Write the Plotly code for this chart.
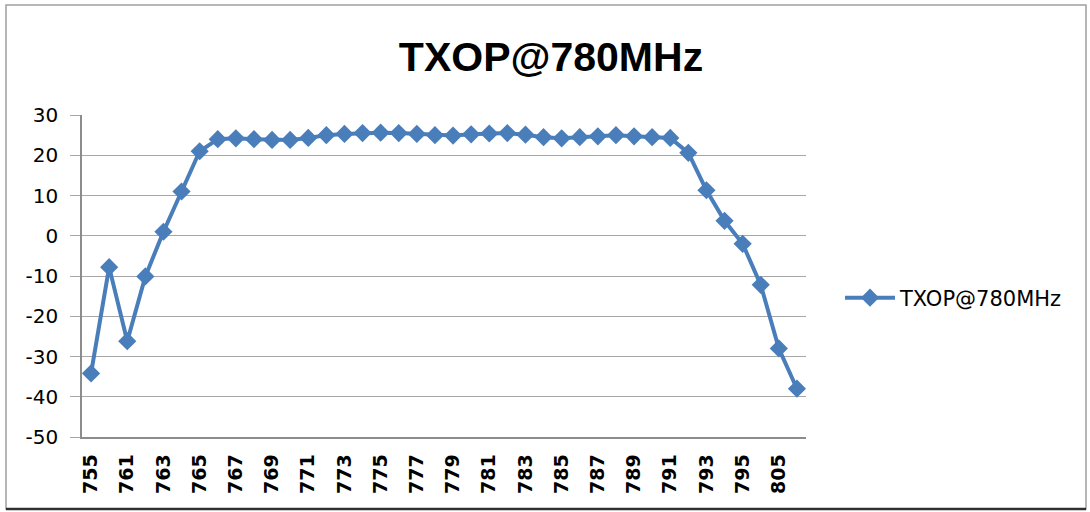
import plotly.graph_objects as go

# Frequency channels (MHz) on the category axis
channels = ["755", "760"] + [str(f) for f in range(761, 796)] + ["800", "805", "810"]

# Measured TX output power at each channel
txop = [-34.2, -7.8, -26.2, -10.1, 1.0, 11.0, 21.0, 24.0, 24.2, 24.0,
        23.8, 23.8, 24.3, 25.0, 25.3, 25.5, 25.6, 25.5, 25.3, 25.0,
        24.9, 25.2, 25.4, 25.5, 25.1, 24.5, 24.2, 24.5, 24.7, 25.0,
        24.7, 24.5, 24.3, 20.6, 11.3, 3.7, -2.0, -12.2, -28.0, -38.0]

series_name = "TXOP@780MHz"
y_range = [-50, 30]
y_ticks = [-50, -40, -30, -20, -10, 0, 10, 20, 30]
shown_labels = channels[::2]

W, H = 1090, 512
L, R, T, B = 82, 284, 115, 75
pw, ph = W - L - R, H - T - B

def px_x(p):
    return (p - L) / pw

def px_y(p):
    return (H - B - p) / ph

grid = "#A6A6A6"
blue = "#4A7EBB"
font_main = "DejaVu Sans"

fig = go.Figure()
fig.add_trace(go.Scatter(
    x=channels, y=txop, name=series_name, mode="lines+markers",
    line=dict(color=blue, width=4),
    marker=dict(symbol="diamond", size=14, color=blue),
))

fig.update_layout(
    width=W, height=H,
    margin=dict(l=L, r=R, t=T, b=B),
    paper_bgcolor="white", plot_bgcolor="white",
    title=dict(text="<b>TXOP@780MHz</b>", x=px_x(551), xref="paper", xanchor="center",
               y=1 - 57 / H, yanchor="middle",
               font=dict(family="Liberation Sans", size=41, color="black")),
    showlegend=True,
    legend=dict(x=px_x(840), y=px_y(298), xanchor="left", yanchor="middle",
                itemwidth=50,
                font=dict(family=font_main, size=21, color="black"),
                bgcolor="rgba(0,0,0,0)"),
    xaxis=dict(type="category", categoryorder="array", categoryarray=channels,
               tickmode="array", tickvals=shown_labels, ticktext=shown_labels,
               tickangle=-90, ticks="", showgrid=False, ticklabelstandoff=8,
               showline=True, linecolor="#8C8C8C", linewidth=1.5,
               tickfont=dict(family=font_main, size=19, color="black", weight="bold"),
               range=[-0.5, len(channels) - 0.5]),
    xaxis2=dict(overlaying="x", anchor="free",
                position=(0 - y_range[0]) / (y_range[1] - y_range[0]),
                range=[-0.5, len(channels) - 0.5], tickmode="linear", tick0=-0.5, dtick=0.5,
                ticks="outside", ticklen=6, tickcolor="#8C8C8C", tickwidth=1.2,
                showline=True, linecolor="#8C8C8C", linewidth=1.5,
                showticklabels=False, showgrid=False, zeroline=False),
    yaxis=dict(range=y_range, tickmode="array", tickvals=y_ticks,
               ticktext=[str(v) for v in y_ticks],
               showgrid=True, gridcolor=grid, gridwidth=1.3,
               zeroline=False, showline=True, linecolor="#8C8C8C", linewidth=1.5,
               ticks="outside", ticklen=10, tickcolor=grid, ticklabelstandoff=8,
               tickfont=dict(family=font_main, size=20, color="black")),
)

# Chart frame
fig.add_shape(type="rect", xref="paper", yref="paper",
              x0=px_x(6), x1=px_x(1086), y0=px_y(509), y1=px_y(5),
              line=dict(color="#A0A0A0", width=1.5), layer="below")
fig.add_shape(type="line", xref="paper", yref="paper",
              x0=px_x(6), x1=px_x(1086), y0=px_y(509), y1=px_y(509),
              line=dict(color="#303030", width=2.5))

fig.write_html("out.html")
